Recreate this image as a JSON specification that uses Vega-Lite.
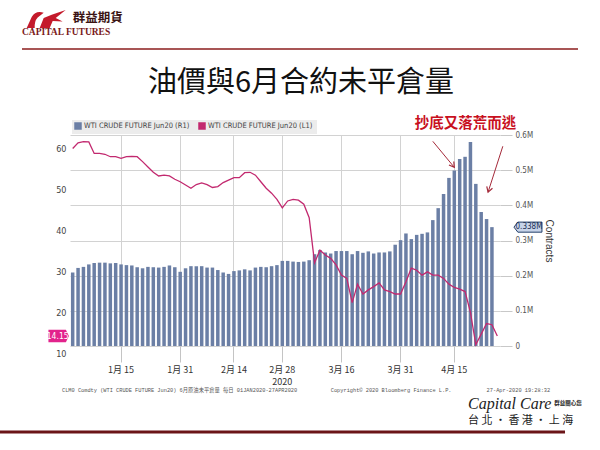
{
  "$schema": "https://vega.github.io/schema/vega-lite/v6.json",
  "width": 430,
  "height": 211,
  "autosize": {"type": "none"},
  "padding": {"left": 70, "top": 135, "right": 100, "bottom": 104},
  "background": "white",
  "config": {"view": {"stroke": null}, "font": "Liberation Sans"},
  "title": {"text": "油價與6月合約未平倉量", "font": "Noto Sans CJK TC", "fontSize": 29, "fontWeight": "normal", "color": "#111111", "anchor": "middle", "frame": "group", "dx": 16, "offset": 0, "dy": 88},
  "datasets": {
    "main": [
      {"date": "2020-01-02", "oi": 0.209, "p": 59.9},
      {"date": "2020-01-03", "oi": 0.222, "p": 61.3},
      {"date": "2020-01-06", "oi": 0.225, "p": 61.6},
      {"date": "2020-01-07", "oi": 0.232, "p": 61.5},
      {"date": "2020-01-08", "oi": 0.236, "p": 58.7},
      {"date": "2020-01-09", "oi": 0.237, "p": 58.7},
      {"date": "2020-01-10", "oi": 0.237, "p": 58.5},
      {"date": "2020-01-13", "oi": 0.235, "p": 57.9},
      {"date": "2020-01-14", "oi": 0.236, "p": 57.9},
      {"date": "2020-01-15", "oi": 0.232, "p": 57.5},
      {"date": "2020-01-16", "oi": 0.230, "p": 57.9},
      {"date": "2020-01-17", "oi": 0.229, "p": 58.0},
      {"date": "2020-01-21", "oi": 0.224, "p": 57.9},
      {"date": "2020-01-22", "oi": 0.221, "p": 56.7},
      {"date": "2020-01-23", "oi": 0.225, "p": 55.4},
      {"date": "2020-01-24", "oi": 0.224, "p": 54.1},
      {"date": "2020-01-27", "oi": 0.223, "p": 53.2},
      {"date": "2020-01-28", "oi": 0.225, "p": 53.4},
      {"date": "2020-01-29", "oi": 0.229, "p": 53.2},
      {"date": "2020-01-30", "oi": 0.224, "p": 52.4},
      {"date": "2020-01-31", "oi": 0.211, "p": 51.8},
      {"date": "2020-02-03", "oi": 0.221, "p": 51.0},
      {"date": "2020-02-04", "oi": 0.227, "p": 50.2},
      {"date": "2020-02-05", "oi": 0.227, "p": 51.1},
      {"date": "2020-02-06", "oi": 0.227, "p": 51.5},
      {"date": "2020-02-07", "oi": 0.223, "p": 51.1},
      {"date": "2020-02-10", "oi": 0.223, "p": 50.4},
      {"date": "2020-02-11", "oi": 0.216, "p": 50.6},
      {"date": "2020-02-12", "oi": 0.209, "p": 51.6},
      {"date": "2020-02-13", "oi": 0.205, "p": 52.2},
      {"date": "2020-02-14", "oi": 0.213, "p": 52.8},
      {"date": "2020-02-18", "oi": 0.215, "p": 52.8},
      {"date": "2020-02-19", "oi": 0.218, "p": 54.0},
      {"date": "2020-02-20", "oi": 0.215, "p": 54.1},
      {"date": "2020-02-21", "oi": 0.223, "p": 53.4},
      {"date": "2020-02-24", "oi": 0.225, "p": 51.8},
      {"date": "2020-02-25", "oi": 0.224, "p": 50.2},
      {"date": "2020-02-26", "oi": 0.227, "p": 49.0},
      {"date": "2020-02-27", "oi": 0.230, "p": 47.5},
      {"date": "2020-02-28", "oi": 0.242, "p": 45.4},
      {"date": "2020-03-02", "oi": 0.242, "p": 47.1},
      {"date": "2020-03-03", "oi": 0.240, "p": 47.5},
      {"date": "2020-03-04", "oi": 0.239, "p": 47.3},
      {"date": "2020-03-05", "oi": 0.240, "p": 46.3},
      {"date": "2020-03-06", "oi": 0.244, "p": 43.0},
      {"date": "2020-03-09", "oi": 0.261, "p": 32.0},
      {"date": "2020-03-10", "oi": 0.273, "p": 35.1},
      {"date": "2020-03-11", "oi": 0.266, "p": 33.9},
      {"date": "2020-03-12", "oi": 0.263, "p": 33.1},
      {"date": "2020-03-13", "oi": 0.270, "p": 31.5},
      {"date": "2020-03-16", "oi": 0.270, "p": 29.0},
      {"date": "2020-03-17", "oi": 0.270, "p": 28.2},
      {"date": "2020-03-18", "oi": 0.261, "p": 22.3},
      {"date": "2020-03-19", "oi": 0.270, "p": 26.8},
      {"date": "2020-03-20", "oi": 0.265, "p": 24.4},
      {"date": "2020-03-23", "oi": 0.269, "p": 25.4},
      {"date": "2020-03-24", "oi": 0.263, "p": 26.2},
      {"date": "2020-03-25", "oi": 0.266, "p": 27.1},
      {"date": "2020-03-26", "oi": 0.266, "p": 25.4},
      {"date": "2020-03-27", "oi": 0.269, "p": 25.0},
      {"date": "2020-03-30", "oi": 0.288, "p": 24.4},
      {"date": "2020-03-31", "oi": 0.301, "p": 24.4},
      {"date": "2020-04-01", "oi": 0.320, "p": 27.4},
      {"date": "2020-04-02", "oi": 0.304, "p": 30.7},
      {"date": "2020-04-03", "oi": 0.316, "p": 30.2},
      {"date": "2020-04-06", "oi": 0.319, "p": 29.0},
      {"date": "2020-04-07", "oi": 0.323, "p": 29.8},
      {"date": "2020-04-08", "oi": 0.358, "p": 29.0},
      {"date": "2020-04-09", "oi": 0.392, "p": 29.0},
      {"date": "2020-04-13", "oi": 0.432, "p": 28.2},
      {"date": "2020-04-14", "oi": 0.478, "p": 26.8},
      {"date": "2020-04-15", "oi": 0.499, "p": 26.0},
      {"date": "2020-04-16", "oi": 0.532, "p": 25.6},
      {"date": "2020-04-17", "oi": 0.538, "p": 25.0},
      {"date": "2020-04-20", "oi": 0.580, "p": 19.9},
      {"date": "2020-04-21", "oi": 0.461, "p": 12.0},
      {"date": "2020-04-22", "oi": 0.381, "p": 14.6},
      {"date": "2020-04-23", "oi": 0.361, "p": 17.2},
      {"date": "2020-04-24", "oi": 0.338, "p": 16.9},
      {"date": "2020-04-27", "oi": null, "p": 14.15}
    ]
  },
  "data": {"name": "main"},
  "encoding": {
    "x": {
      "field": "date", "type": "ordinal",
      "scale": {"paddingInner": 0.35, "paddingOuter": 0.175},
      "axis": {
        "title": null, "values": ["2020-01-15", "2020-01-31", "2020-02-14", "2020-02-28", "2020-03-16", "2020-03-31", "2020-04-15"],
        "labelExpr": "datum.value == '2020-02-28' ? ['2月 28', '2020'] : toNumber(substring(datum.value, 5, 7)) + '月 ' + toNumber(substring(datum.value, 8, 10))",
        "labelAngle": 0, "labelFontSize": 9, "labelColor": "#333333", "labelFont": "'Liberation Sans Narrow', 'Noto Sans CJK TC', sans-serif",
        "labelPadding": 3, "labelLineHeight": 12, "domain": false, "grid": true, "gridColor": "#d2d2d2", "gridWidth": 1,
        "ticks": true, "tickSize": 16, "tickColor": "#c4c4c4"
      }
    }
  },
  "layer": [
    {
      "encoding": {
        "y": {
          "field": "oi", "type": "quantitative",
          "scale": {"domain": [0, 0.6], "nice": false},
          "axis": {
            "orient": "right", "values": [0, 0.1, 0.2, 0.3, 0.4, 0.5, 0.6],
            "labelExpr": "datum.value == 0 ? '0' : format(datum.value, '.1f') + 'M'",
            "grid": true, "gridColor": "#d2d2d2", "domain": false, "tickSize": 12, "tickColor": "#c8c8c8",
            "labelFontSize": 8, "labelColor": "#555555", "labelFont": "'Liberation Sans Narrow', 'DejaVu Sans Condensed', sans-serif", "labelPadding": 3,
            "title": "Contracts", "titleAngle": 90, "titleFontSize": 10, "titleFontWeight": "normal", "titleColor": "#333333", "titlePadding": 11
          }
        }
      },
      "layer": [
        {
          "mark": {"type": "bar"},
          "encoding": {
            "color": {
              "datum": "WTI CRUDE FUTURE Jun20  (R1)",
              "scale": {"domain": ["WTI CRUDE FUTURE Jun20  (R1)", "WTI CRUDE FUTURE Jun20  (L1)"], "range": ["#6b7fa5", "#c2296f"]},
              "legend": {
                "title": null, "orient": "none", "legendX": 2, "legendY": -15, "direction": "horizontal",
                "symbolType": "square", "symbolSize": 36, "labelFontSize": 7.5, "labelColor": "#444444",
                "labelFont": "'Liberation Sans Narrow', 'DejaVu Sans Condensed', sans-serif",
                "fillColor": "#ececec", "padding": 2, "columnPadding": 4, "symbolOffset": 0, "labelOffset": 2,
                "encode": {"symbols": {"update": {"fill": {"scale": "color", "field": "value"}, "stroke": {"value": "transparent"}}}}
              }
            }
          }
        },
        {
          "transform": [{"filter": "datum.date == '2020-04-24'"}],
          "mark": {"type": "point", "shape": "M-1,0L-0.72,-0.36L1,-0.36L1,0.36L-0.72,0.36Z", "size": 784, "filled": true, "fill": "#c7d3e8", "stroke": "#24406b", "strokeWidth": 1, "opacity": 1, "xOffset": 36}
        },
        {
          "transform": [{"filter": "datum.date == '2020-04-24'"}, {"calculate": "format(datum.oi, '.3f') + 'M'", "as": "label"}],
          "mark": {"type": "text", "fontSize": 8, "color": "#1b2f55", "align": "center", "baseline": "middle", "xOffset": 37, "font": "'Liberation Sans Narrow', 'DejaVu Sans Condensed', sans-serif"},
          "encoding": {"text": {"field": "label"}}
        },
        {
          "data": {"values": [{"date": "2020-04-20", "oi": 0.63, "text": "抄底又落荒而逃"}]},
          "mark": {"type": "text", "font": "Noto Sans CJK TC", "fontWeight": "bold", "fontSize": 14.5, "color": "#c8101e", "align": "center", "baseline": "middle", "dx": -5},
          "encoding": {"text": {"field": "text"}}
        },
        {
          "data": {"values": [{"date": "2020-04-08", "date2": "2020-04-15", "oi": 0.582, "oi2": 0.508}]},
          "mark": {"type": "rule", "stroke": "#a52a3a", "strokeWidth": 1},
          "encoding": {"x2": {"field": "date2"}, "y2": {"field": "oi2"}}
        },
        {
          "data": {"values": [{"date": "2020-04-15", "oi": 0.508}]},
          "mark": {"type": "point", "shape": "M-0.6,-1L0,0L0.6,-1", "size": 100, "filled": false, "stroke": "#a52a3a", "strokeWidth": 1.2, "opacity": 1, "angle": 324}
        },
        {
          "data": {"values": [{"date": "2020-04-27", "date2": "2020-04-23", "oi": 0.568, "oi2": 0.4375}]},
          "mark": {"type": "rule", "stroke": "#a52a3a", "strokeWidth": 1, "xOffset": 5.5, "x2Offset": 1.5},
          "encoding": {"x2": {"field": "date2"}, "y2": {"field": "oi2"}}
        },
        {
          "data": {"values": [{"date": "2020-04-23", "oi": 0.4375}]},
          "mark": {"type": "point", "shape": "M-0.6,-1L0,0L0.6,-1", "size": 100, "filled": false, "stroke": "#a52a3a", "strokeWidth": 1.2, "opacity": 1, "angle": 18, "xOffset": 1.5}
        }
      ]
    },
    {
      "encoding": {
        "y": {
          "field": "p", "type": "quantitative",
          "scale": {"domain": [10, 63.2], "range": [218, 0], "nice": false, "zero": false},
          "axis": {"orient": "left", "values": [10, 20, 30, 40, 50, 60], "grid": false, "domain": false, "ticks": false, "labelFontSize": 9, "labelColor": "#444444", "labelPadding": 4, "title": null, "labelFont": "'Liberation Sans Narrow', 'DejaVu Sans Condensed', sans-serif"}
        }
      },
      "layer": [
        {
          "mark": {"type": "line", "strokeWidth": 1.3},
          "encoding": {"color": {"datum": "WTI CRUDE FUTURE Jun20  (L1)"}}
        },
        {
          "transform": [{"filter": "datum.date == '2020-04-27'"}],
          "mark": {"type": "point", "shape": "M-1,-0.6L0.7,-0.6L1,0L0.7,0.6L-1,0.6Z", "size": 420, "filled": true, "fill": "#e2238c", "strokeWidth": 0, "opacity": 1, "xOffset": -14},
          "encoding": {"x": {"datum": "2020-01-02", "type": "ordinal"}}
        },
        {
          "transform": [{"filter": "datum.date == '2020-04-27'"}, {"calculate": "format(datum.p, '.2f')", "as": "label"}],
          "mark": {"type": "text", "fontSize": 8.5, "color": "white", "align": "center", "baseline": "middle", "xOffset": -15, "font": "'Liberation Sans Narrow', 'DejaVu Sans Condensed', sans-serif"},
          "encoding": {"x": {"datum": "2020-01-02", "type": "ordinal"}, "text": {"field": "label"}}
        },
        {
          "data": {"values": [{"date": "2020-01-02", "p": 91.5}]},
          "mark": {"type": "point", "shape": "M-1,0.45L-0.75,-0.1Q-0.55,-0.45,-0.15,-0.32L-0.45,-0.08Q-0.62,0.1,-0.6,0.45ZM-0.35,0.45L-0.15,-0.05L0.25,-0.22L0.95,-0.45L0.45,-0.05L0.8,0.12L0.3,0.1L0.15,0.45Z", "size": 1600, "filled": true, "fill": "#c41a2b", "strokeWidth": 0, "opacity": 1, "xOffset": -26}
        },
        {
          "data": {"values": [{"date": "2020-01-02", "p": 91.8, "text": "群益期貨"}]},
          "mark": {"type": "text", "font": "Noto Sans CJK TC", "fontWeight": "bold", "fontSize": 12.5, "color": "#3b1414", "align": "left", "baseline": "middle"},
          "encoding": {"text": {"field": "text"}}
        },
        {
          "data": {"values": [{"date": "2020-01-02", "p": 88.4, "text": "CAPITAL FUTURES"}]},
          "mark": {"type": "text", "font": "Liberation Serif", "fontWeight": "bold", "fontSize": 9.5, "color": "#7a1a1a", "align": "left", "baseline": "middle", "xOffset": -50.7},
          "encoding": {"text": {"field": "text"}}
        },
        {
          "data": {"values": [{"date": "2020-01-02", "date2": "2020-04-27", "p": 84.2}]},
          "mark": {"type": "rule", "stroke": "#8b1d1d", "strokeWidth": 1.5, "xOffset": -50.7, "x2Offset": 80.7},
          "encoding": {"x2": {"field": "date2"}}
        },
        {
          "data": {"values": [
            {"date": "2020-01-02", "p": 1.0, "text": "CLM0 Comdty (WTI CRUDE FUTURE  Jun20) 6月原油未平倉量  每日 01JAN2020-27APR2020"},
            {"date": "2020-03-16", "p": 1.0, "text": "Copyright© 2020 Bloomberg Finance L.P."},
            {"date": "2020-04-27", "p": 1.0, "text": "27-Apr-2020 19:28:32"}
          ]},
          "mark": {"type": "text", "font": "'Liberation Mono', 'Noto Sans CJK TC', monospace", "fontSize": 5.3, "color": "#555555", "align": "left", "baseline": "middle", "xOffset": -10.7},
          "encoding": {"text": {"field": "text"}}
        },
        {
          "data": {"values": [{"date": "2020-04-27", "p": -2.4, "text": "Capital Care"}]},
          "mark": {"type": "text", "font": "Liberation Serif", "fontStyle": "italic", "fontSize": 16, "color": "#222222", "align": "left", "baseline": "middle", "xOffset": -29.3},
          "encoding": {"text": {"field": "text"}}
        },
        {
          "data": {"values": [{"date": "2020-04-27", "p": -2.2, "text": "群益關心您"}]},
          "mark": {"type": "text", "font": "Noto Sans CJK TC", "fontWeight": "bold", "fontSize": 5.5, "color": "#222222", "align": "left", "baseline": "middle", "xOffset": 57},
          "encoding": {"text": {"field": "text"}}
        },
        {
          "data": {"values": [{"date": "2020-04-27", "p": -6.6, "text": "台 北 · 香 港 · 上 海"}]},
          "mark": {"type": "text", "font": "Noto Sans CJK TC", "fontSize": 11, "color": "#222222", "align": "left", "baseline": "middle", "xOffset": -29.3},
          "encoding": {"text": {"field": "text"}}
        },
        {
          "data": {"values": [{"date": "2020-01-02", "date2": "2020-04-27", "p": -9.3}]},
          "mark": {"type": "rule", "stroke": "#6b1518", "strokeWidth": 3, "xOffset": -72.7, "x2Offset": 67.7},
          "encoding": {"x2": {"field": "date2"}}
        }
      ]
    }
  ],
  "resolve": {"scale": {"y": "independent"}, "axis": {"y": "independent"}}
}
